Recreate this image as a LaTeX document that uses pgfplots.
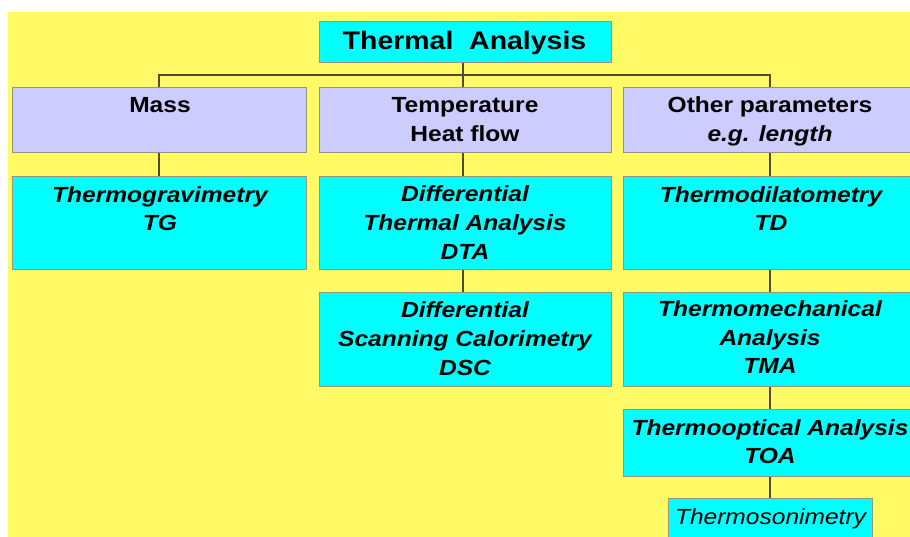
\documentclass[border=0pt]{standalone}
\usepackage{fontspec}
\setmainfont{Liberation Sans}
\usepackage{graphicx}
\usepackage{pgfplots}
\pgfplotsset{compat=1.18}
\definecolor{bgy}{RGB}{255,250,102}
\definecolor{cy}{RGB}{0,255,255}
\definecolor{lav}{RGB}{204,204,255}
\definecolor{bd}{RGB}{150,150,125}
\definecolor{ln}{RGB}{80,76,50}
\newcommand{\sx}[1]{\scalebox{1.12}[1]{#1}}
\begin{document}
\begin{tikzpicture}
\begin{axis}[
  width=910bp, height=536bp, scale only axis,
  xmin=0, xmax=910, ymin=0, ymax=536, y dir=reverse,
  hide axis, clip=true,
]
% background
\addplot[fill=white, draw=none] coordinates {(0,0)(910,0)(910,536)(0,536)} --cycle;
\addplot[fill=bgy, draw=none] coordinates {(8,12)(912,12)(912,540)(8,540)} --cycle;
% connectors
\addplot[ln, line width=1.2bp, no marks] coordinates {(159,87)(159,75)(770,75)(770,87)};
\addplot[ln, line width=1.2bp, no marks] coordinates {(463,62)(463,87)};
\addplot[ln, line width=1.2bp, no marks] coordinates {(159,152)(159,177)};
\addplot[ln, line width=1.2bp, no marks] coordinates {(463,152)(463,177)};
\addplot[ln, line width=1.2bp, no marks] coordinates {(770,152)(770,177)};
\addplot[ln, line width=1.2bp, no marks] coordinates {(463,269)(463,293)};
\addplot[ln, line width=1.2bp, no marks] coordinates {(770,269)(770,293)};
\addplot[ln, line width=1.2bp, no marks] coordinates {(770,386)(770,409)};
\addplot[ln, line width=1.2bp, no marks] coordinates {(770,476)(770,498)};
% boxes
\addplot[fill=cy, draw=bd, line width=1bp] coordinates {(319,22)(611.5,22)(611.5,62.5)(319,62.5)} --cycle;
\addplot[fill=lav, draw=bd, line width=1bp] coordinates {(12.7,87.3)(306,87.3)(306,152.3)(12.7,152.3)} --cycle;
\addplot[fill=lav, draw=bd, line width=1bp] coordinates {(319,87.3)(611.5,87.3)(611.5,152.3)(319,152.3)} --cycle;
\addplot[fill=lav, draw=bd, line width=1bp] coordinates {(623.5,87.3)(917,87.3)(917,152.3)(623.5,152.3)} --cycle;
\addplot[fill=cy, draw=bd, line width=1bp] coordinates {(12.7,176.7)(306,176.7)(306,269.3)(12.7,269.3)} --cycle;
\addplot[fill=cy, draw=bd, line width=1bp] coordinates {(319,176.7)(611.5,176.7)(611.5,269.3)(319,269.3)} --cycle;
\addplot[fill=cy, draw=bd, line width=1bp] coordinates {(623.5,176.7)(917,176.7)(917,269.3)(623.5,269.3)} --cycle;
\addplot[fill=cy, draw=bd, line width=1bp] coordinates {(319,292.7)(611.5,292.7)(611.5,386.5)(319,386.5)} --cycle;
\addplot[fill=cy, draw=bd, line width=1bp] coordinates {(623.5,292.7)(917,292.7)(917,386.5)(623.5,386.5)} --cycle;
\addplot[fill=cy, draw=bd, line width=1bp] coordinates {(623.5,409.3)(917,409.3)(917,476)(623.5,476)} --cycle;
\addplot[fill=cy, draw=bd, line width=1bp] coordinates {(668.3,498.3)(872.7,498.3)(872.7,545)(668.3,545)} --cycle;
% texts
\tikzset{tA/.style={anchor=base, inner sep=0pt, font=\fontsize{25.5}{30}\selectfont\bfseries},
         tB/.style={anchor=base, inner sep=0pt, font=\fontsize{22}{28}\selectfont\bfseries},
         tC/.style={anchor=base, inner sep=0pt, font=\fontsize{22}{28}\selectfont\bfseries\itshape},
         tD/.style={anchor=base, inner sep=0pt, font=\fontsize{22}{28}\selectfont\itshape}}
\node[tA] at (axis cs:464.5,50) {\sx{Thermal\ \ Analysis}};
\node[tB] at (axis cs:160,112.7) {\sx{Mass}};
\node[tB] at (axis cs:465,112.5) {\sx{Temperature}};
\node[tB] at (axis cs:465,141.2) {\sx{Heat flow}};
\node[tB] at (axis cs:770,112.7) {\sx{Other parameters}};
\node[tC] at (axis cs:770,141.7) {\sx{e.g. length}};
\node[tC] at (axis cs:160,202.5) {\sx{Thermogravimetry}};
\node[tC] at (axis cs:160,230) {\sx{TG}};
\node[tC] at (axis cs:465,201.7) {\sx{Differential}};
\node[tC] at (axis cs:465,230) {\sx{Thermal Analysis}};
\node[tC] at (axis cs:465,259) {\sx{DTA}};
\node[tC] at (axis cs:771,202.7) {\sx{Thermodilatometry}};
\node[tC] at (axis cs:771,230) {\sx{TD}};
\node[tC] at (axis cs:465,317.7) {\sx{Differential}};
\node[tC] at (axis cs:465,346.7) {\sx{Scanning Calorimetry}};
\node[tC] at (axis cs:465,375) {\sx{DSC}};
\node[tC] at (axis cs:770,316.7) {\sx{Thermomechanical}};
\node[tC] at (axis cs:770,345) {\sx{Analysis}};
\node[tC] at (axis cs:770,373.3) {\sx{TMA}};
\node[tC] at (axis cs:770,435) {\sx{Thermooptical Analysis}};
\node[tC] at (axis cs:770,463) {\sx{TOA}};
\node[tD] at (axis cs:770.5,524) {\sx{Thermosonimetry}};
\end{axis}
\pgfresetboundingbox
\useasboundingbox (current axis.south west) rectangle (current axis.north east);
\end{tikzpicture}
\end{document}
